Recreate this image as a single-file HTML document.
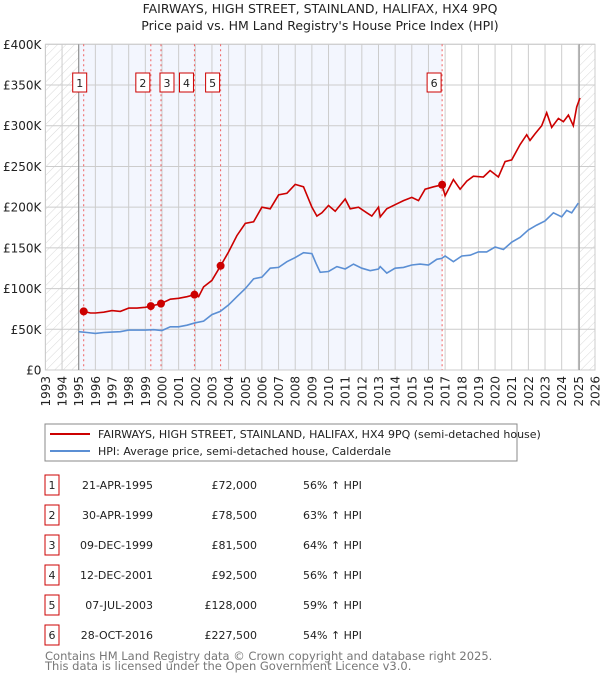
<!DOCTYPE html>
<html><head><meta charset="utf-8"><style>
body{margin:0;background:#fff;font-family:"DejaVu Sans","Liberation Sans",sans-serif;}
#wrap{position:relative;width:600px;height:680px;overflow:hidden;}
svg text{font-family:"DejaVu Sans","Liberation Sans",sans-serif;}
</style></head><body><div id="wrap">
<svg id="c" width="600" height="680" xmlns="http://www.w3.org/2000/svg">
<defs><pattern id="hatch" width="6" height="6" patternUnits="userSpaceOnUse" patternTransform="rotate(45)"><line x1="0" y1="0" x2="0" y2="6" stroke="#d8d8d8" stroke-width="1"/></pattern></defs>
<text x="320" y="13" text-anchor="middle" font-size="12.5" fill="#222">FAIRWAYS, HIGH STREET, STAINLAND, HALIFAX, HX4 9PQ</text>
<text x="320" y="30" text-anchor="middle" font-size="12.5" fill="#222">Price paid vs. HM Land Registry's House Price Index (HPI)</text>
<g id="plot"></g>
<rect x="45" y="424" width="472" height="37" fill="#fff" stroke="#888"/>
<line x1="50" y1="434" x2="90" y2="434" stroke="#cc0000" stroke-width="2"/>
<text x="98" y="438" font-size="11" fill="#222">FAIRWAYS, HIGH STREET, STAINLAND, HALIFAX, HX4 9PQ (semi-detached house)</text>
<line x1="50" y1="451" x2="90" y2="451" stroke="#5b8fd4" stroke-width="2"/>
<text x="98" y="455" font-size="11" fill="#222">HPI: Average price, semi-detached house, Calderdale</text>
<g id="table"></g>
<text x="45" y="660" font-size="11.5" fill="#777">Contains HM Land Registry data © Crown copyright and database right 2025.</text>
<text x="45" y="670" font-size="11.5" fill="#777">This data is licensed under the Open Government Licence v3.0.</text>
</svg></div>
<script>
const hpiYears=[1995,1995.5,1996,1996.5,1997,1997.5,1998,1998.5,1999,1999.5,2000,2000.5,2001,2001.5,2002,2002.5,2003,2003.5,2004,2004.5,2005,2005.5,2006,2006.5,2007,2007.5,2008,2008.5,2009,2009.25,2009.5,2010,2010.5,2011,2011.5,2012,2012.5,2013,2013.1,2013.5,2014,2014.5,2015,2015.5,2016,2016.5,2016.8,2017,2017.5,2018,2018.5,2019,2019.5,2020,2020.5,2021,2021.5,2022,2022.5,2023,2023.5,2024,2024.3,2024.6,2025];
const hpiValues=[47,46,45,46,46.5,47,49,49,49,49.5,48.5,53,53,55,58,60,68,72,80,90,100,112,114,125,126,133,138,144,143,131,120,121,127,124,130,125,122,124,127,119,125,126,129,130,129,136,137,140,133,140,141,145,145,151,148,157,163,172,178,183,193,188,196,193,205,215];
const propYears=[1995.3,1995.7,1996,1996.5,1997,1997.5,1998,1998.5,1999,1999.33,1999.94,2000.5,2001,2001.5,2001.95,2002.2,2002.5,2003,2003.52,2004,2004.5,2005,2005.5,2006,2006.5,2007,2007.5,2008,2008.5,2009,2009.3,2009.6,2010,2010.4,2011,2011.3,2011.8,2012.3,2012.6,2013,2013.1,2013.5,2014,2014.5,2015,2015.4,2015.8,2016.3,2016.82,2017,2017.5,2017.9,2018.3,2018.7,2019.3,2019.7,2020.2,2020.6,2021,2021.5,2021.9,2022.1,2022.4,2022.8,2023.1,2023.4,2023.8,2024.1,2024.4,2024.7,2024.9,2025.1];
const propValues=[72,70,70,71,73,72,76,76,77,78.5,81.5,87,88,90,92.5,90,102,110,128,145,165,180,182,200,198,215,217,228,225,200,189,193,202,195,210,198,200,193,189,200,188,198,203,208,212,208,222,225,227.5,214,234,222,232,238,237,245,237,256,258,277,289,282,290,300,316,298,309,305,313,300,323,334];
const saleLabels=["1","2","3","4","5","6"];
const saleYears=[1995.30,1999.33,1999.94,2001.95,2003.52,2016.82];
const salePrices=[72,78.5,81.5,92.5,128,227.5];
const saleDates=["21-APR-1995","30-APR-1999","09-DEC-1999","12-DEC-2001","07-JUL-2003","28-OCT-2016"];
const salePriceText=["£72,000","£78,500","£81,500","£92,500","£128,000","£227,500"];
const salePct=["56% ↑ HPI","63% ↑ HPI","64% ↑ HPI","56% ↑ HPI","59% ↑ HPI","54% ↑ HPI"];
const yTicks=[0,50,100,150,200,250,300,350,400];
const yTickLabels=["£0","£50K","£100K","£150K","£200K","£250K","£300K","£350K","£400K"];
const xTicks=[];for(let y=1993;y<=2026;y++)xTicks.push(y);

const X0=45.4,X1=595,Y0=370,Y1=44.3;
const x=v=>X0+(v-1993)*(X1-X0)/33;
const y=v=>Y0-(v)*(Y0-Y1)/400;
const NS="http://www.w3.org/2000/svg";
const g=document.getElementById('plot');
function mk(t,a,p){const e=document.createElementNS(NS,t);for(const k in a)e.setAttribute(k,a[k]);(p||g).appendChild(e);return e;}

let e;
e=mk('rect',{x:x(1995),y:Y1,width:x(2016.82)-x(1995),height:Y0-Y1,fill:'#f3f6fe'});


e=mk('rect',{x:X0,y:Y1,width:x(1995)-X0,height:Y0-Y1,fill:'url(#hatch)'});


e=mk('rect',{x:x(2025.1),y:Y1,width:X1-x(2025.1),height:Y0-Y1,fill:'url(#hatch)'});


xTicks.forEach(t=>{mk('line',{x1:x(t),y1:Y1,x2:x(t),y2:Y0,stroke:'#ccc','stroke-width':1});
 e=mk('text',{x:0,y:0,'font-size':12,fill:'#222','text-anchor':'end',transform:`translate(${x(t)+4.5},${Y0+6}) rotate(-90)`});e.textContent=t;
 
 });
yTicks.forEach((t,i)=>{mk('line',{x1:X0,y1:y(t),x2:X1,y2:y(t),stroke:'#ccc','stroke-width':1});
 e=mk('text',{x:X0-4,y:y(t)+4.5,'font-size':12,fill:'#222','text-anchor':'end'});e.textContent=yTickLabels[i];
 
 });
mk('rect',{x:X0,y:Y1,width:X1-X0,height:Y0-Y1,fill:'none',stroke:'#ccc'});
mk('line',{x1:x(1995),y1:Y1,x2:x(1995),y2:Y0,stroke:'#888','stroke-width':1});
mk('line',{x1:x(2025.05),y1:Y1,x2:x(2025.05),y2:Y0,stroke:'#888','stroke-width':1});
saleYears.forEach((s,i)=>{e=mk('line',{x1:x(s),y1:Y1,x2:x(s),y2:Y0,stroke:'#f06060','stroke-dasharray':'2,3','stroke-width':1});
 
 
 mk('rect',{x:x(s)+(i==1?-15:i==2?-1:i==0?-11:-15),y:73,width:14,height:19,fill:'#fff',stroke:'#cc0000'});
 e=mk('text',{x:x(s)+(i==1?-8:i==2?6:i==0?-4:-8),y:87,'font-size':11,'text-anchor':'middle',fill:'#222'});e.textContent=saleLabels[i];
 
 });
const path=(xs,vs)=>xs.map((v,i)=>(i?'L':'M')+x(v).toFixed(1)+','+y(vs[i]).toFixed(1)).join('');
e=mk('path',{d:path(hpiYears,hpiValues),fill:'none',stroke:'#5b8fd4','stroke-width':1.6});


e=mk('path',{d:path(propYears,propValues),fill:'none',stroke:'#cc0000','stroke-width':1.6});


saleYears.forEach((s,i)=>{e=mk('circle',{cx:x(s),cy:y(salePrices[i]),r:4,fill:'#cc0000'});
 
 });

const tg=document.getElementById('table');
saleLabels.forEach((l,i)=>{const cy=485+i*30;
 mk('rect',{x:45,y:cy-10,width:14,height:20,fill:'#fff',stroke:'#cc0000'},tg);
 e=mk('text',{x:52,y:cy+4,'font-size':11,'text-anchor':'middle',fill:'#222'},tg);e.textContent=l;
 
 
 e=mk('text',{x:153,y:cy+4,'font-size':11,'text-anchor':'end',fill:'#222'},tg);e.textContent=saleDates[i];
 
 
 e=mk('text',{x:257,y:cy+4,'font-size':11,'text-anchor':'end',fill:'#222'},tg);e.textContent=salePriceText[i];
 
 
 e=mk('text',{x:303,y:cy+4,'font-size':11,fill:'#222'},tg);e.textContent=salePct[i];
 
 });
</script></body></html>
